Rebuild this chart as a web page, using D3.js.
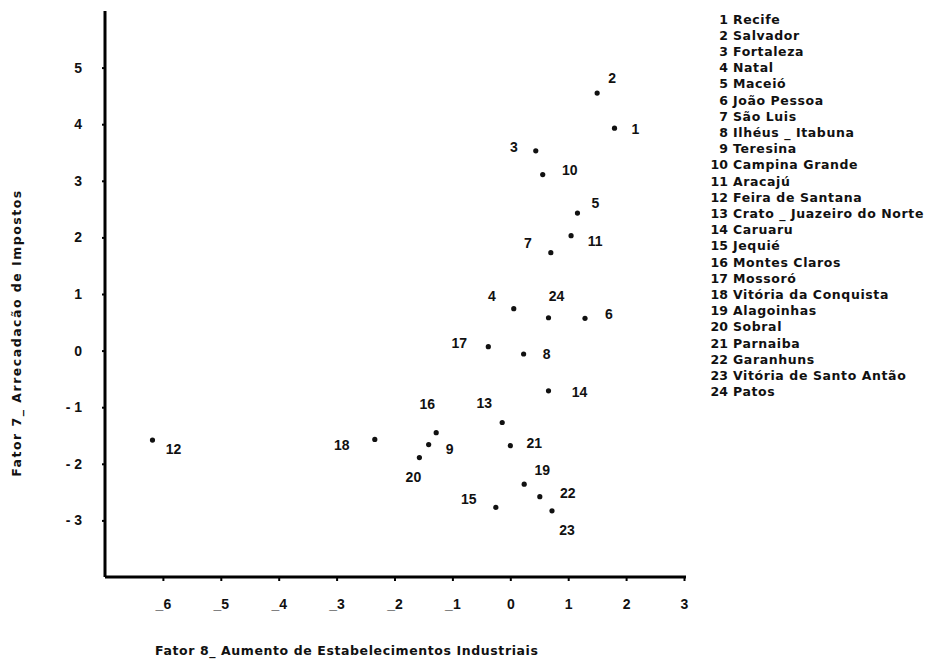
<!DOCTYPE html>
<html>
<head>
<meta charset="utf-8">
<script src="https://cdn.jsdelivr.net/npm/d3@7"></script>
<style>
  body { margin: 0; background: #fff; }
  text { font-family: "Liberation Sans", Arial, sans-serif; font-weight: bold; fill: #111; }
  text.wide { font-family: "DejaVu Sans", sans-serif; }
</style>
</head>
<body>
<div id="chart"></div>
<script>
// city ids and names (legend)
const ids = d3.range(1, 25);
const cities = ["Recife", "Salvador", "Fortaleza", "Natal", "Maceió", "João Pessoa", "São Luis",
  "Ilhéus _ Itabuna", "Teresina", "Campina Grande", "Aracajú", "Feira de Santana",
  "Crato _ Juazeiro do Norte", "Caruaru", "Jequié", "Montes Claros", "Mossoró",
  "Vitória da Conquista", "Alagoinhas", "Sobral", "Parnaiba", "Garanhuns",
  "Vitória de Santo Antão", "Patos"];

// factor scores
const fator8 = [1.80, 1.50, 0.44, 0.06, 1.16, 1.29, 0.70, 0.23, -1.41, 0.56, 1.05, -6.18,
  -0.14, 0.66, -0.25, -1.28, -0.38, -2.34, 0.24, -1.57, 0.00, 0.51, 0.72, 0.66];
const fator7 = [3.93, 4.55, 3.53, 0.74, 2.43, 0.57, 1.73, -0.06, -1.66, 3.11, 2.03, -1.58,
  -1.27, -0.71, -2.77, -1.45, 0.07, -1.57, -2.36, -1.89, -1.68, -2.58, -2.83, 0.58];

const xTicks = [-6, -5, -4, -3, -2, -1, 0, 1, 2, 3];
const yTicks = [-3, -2, -1, 0, 1, 2, 3, 4, 5];

// where each number label sits relative to its dot (px)
const labelDx = [21, 15, -22, -22, 18, 24, -23, 23, 21, 27, 24, 21, -18, 31, -27, -9, -29, -33, 18, -6, 24, 28, 15, 8];
const labelDy = [1, -15, -4, -13, -10, -4, -10, 0, 4, -5, 5, 9, -19, 1, -8, -29, -4, 6, -14, 19, -3, -4, 19, -22];

const width = 933, height = 665;
const svg = d3.select("#chart").append("svg")
  .attr("width", width).attr("height", height);

const x = d3.scaleLinear().domain([-7, 3]).range([105, 684]);
const y = d3.scaleLinear().domain([-4, 6]).range([577, 11]);

// axes
const xAxis = svg.append("g")
  .attr("transform", `translate(0,${y(-4)})`)
  .call(d3.axisBottom(x).tickValues(xTicks).tickSize(4).tickPadding(18)
    .tickFormat(d => d < 0 ? "_" + Math.abs(d) : d));
xAxis.select(".domain").attr("d", `M${x(-7)},0H${x(3) + 2}`).attr("stroke-width", 3);
xAxis.selectAll(".tick line").attr("stroke-width", 2);
xAxis.selectAll("text").style("font-size", "14px").attr("fill", "#111");

const yAxis = svg.append("g")
  .attr("transform", `translate(${x(-7)},0)`)
  .call(d3.axisLeft(y).tickValues(yTicks).tickSize(3).tickPadding(20)
    .tickFormat(d => d < 0 ? "- " + Math.abs(d) : d));
yAxis.select(".domain").attr("d", `M0,${y(6)}V${y(-4)}`).attr("stroke-width", 3);
yAxis.selectAll(".tick line").attr("stroke-width", 2);
yAxis.selectAll("text").style("font-size", "14px").attr("fill", "#111");

// points
const pts = ids.map((id, i) => ({ id, fx: fator8[i], fy: fator7[i], dx: labelDx[i], dy: labelDy[i] }));
svg.append("g").selectAll("circle")
  .data(pts).join("circle")
  .attr("cx", d => x(d.fx))
  .attr("cy", d => y(d.fy))
  .attr("r", 2.6)
  .attr("fill", "#111");

svg.append("g").selectAll("text")
  .data(pts).join("text")
  .attr("x", d => x(d.fx) + d.dx)
  .attr("y", d => y(d.fy) + d.dy)
  .attr("text-anchor", "middle")
  .attr("dominant-baseline", "central")
  .style("font-size", "14px")
  .text(d => d.id);

// axis titles
svg.append("text")
  .attr("class", "wide")
  .attr("transform", "translate(21,333) rotate(-90)")
  .attr("text-anchor", "middle")
  .style("font-size", "12.5px")
  .style("letter-spacing", "1.5px")
  .text("Fator 7_  Arrecadacão  de  Impostos");

svg.append("text")
  .attr("class", "wide")
  .attr("x", 155).attr("y", 655)
  .style("font-size", "12.5px")
  .style("letter-spacing", "0.6px")
  .text("Fator 8_  Aumento  de  Estabelecimentos  Industriais");

// legend
const legend = svg.append("g");
legend.selectAll("text.num")
  .data(ids).join("text")
  .attr("class", "num wide")
  .attr("x", 728)
  .attr("y", (d, i) => 19 + i * 16.2)
  .attr("text-anchor", "end")
  .attr("dominant-baseline", "central")
  .style("font-size", "12.5px")
  .text(d => d);
legend.selectAll("text.name")
  .data(cities).join("text")
  .attr("class", "name wide")
  .attr("x", 733)
  .attr("y", (d, i) => 19 + i * 16.2)
  .attr("dominant-baseline", "central")
  .style("font-size", "12.5px")
  .style("letter-spacing", "0.6px")
  .text(d => d);
</script>
</body>
</html>
